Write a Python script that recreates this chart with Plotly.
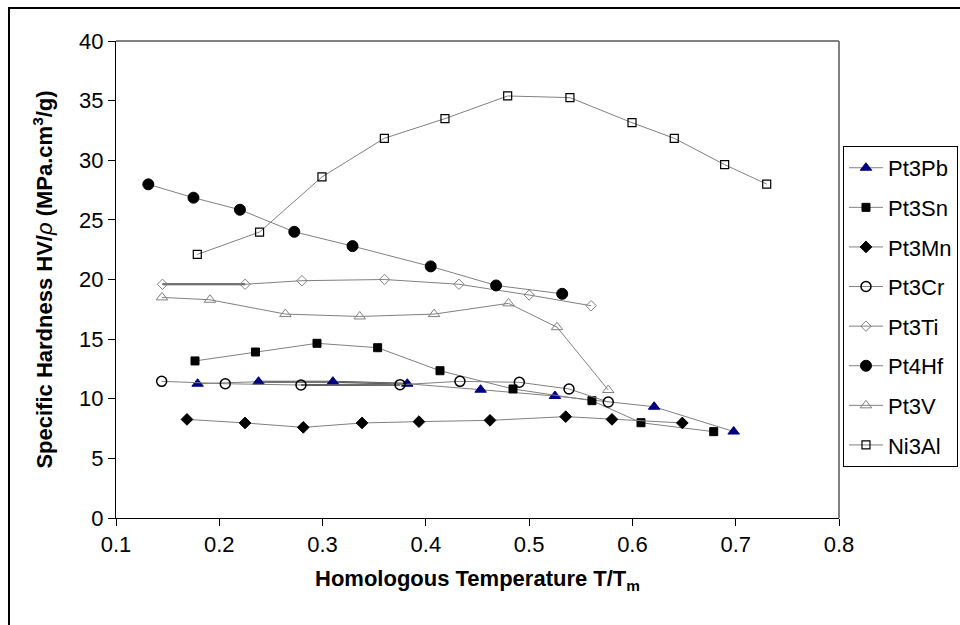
import plotly.graph_objects as go

# ---- data ----
pb_x = [0.179, 0.238, 0.310, 0.382, 0.453, 0.525, 0.621, 0.698]
pb_y = [11.26, 11.43, 11.43, 11.26, 10.76, 10.23, 9.33, 7.25]

sn_x = [0.1765, 0.235, 0.2946, 0.3533, 0.4137, 0.4844, 0.5608, 0.6083, 0.6787]
sn_y = [13.17, 13.92, 14.65, 14.28, 12.35, 10.82, 9.84, 7.99, 7.24]

mn_x = [0.1687, 0.2249, 0.2813, 0.3382, 0.3933, 0.4621, 0.5354, 0.5802, 0.6483]
mn_y = [8.27, 7.97, 7.60, 7.97, 8.08, 8.19, 8.50, 8.27, 7.97]

cr_x = [0.1442, 0.2058, 0.2791, 0.3750, 0.4330, 0.4905, 0.5386, 0.5766]
cr_y = [11.46, 11.26, 11.15, 11.18, 11.46, 11.38, 10.82, 9.73]

ti_x = [0.145, 0.225, 0.280, 0.360, 0.432, 0.500, 0.560]
ti_y = [19.6, 19.6, 19.9, 20.0, 19.6, 18.7, 17.8]

hf_x = [0.1313, 0.175, 0.220, 0.2726, 0.329, 0.4047, 0.468, 0.532]
hf_y = [27.98, 26.86, 25.85, 24.0, 22.8, 21.1, 19.5, 18.8]

v_x = [0.1445, 0.191, 0.264, 0.336, 0.408, 0.480, 0.527, 0.5766]
v_y = [18.5, 18.3, 17.1, 16.9, 17.1, 18.0, 16.0, 10.73]

al_x = [0.1787, 0.239, 0.2994, 0.3598, 0.4185, 0.4792, 0.5395, 0.5996, 0.6405, 0.6893, 0.730]
al_y = [22.1, 23.98, 28.6, 31.84, 33.49, 35.39, 35.25, 33.15, 31.84, 29.63, 28.0]

names = ["Pt3Pb", "Pt3Sn", "Pt3Mn", "Pt3Cr", "Pt3Ti", "Pt4Hf", "Pt3V", "Ni3Al"]

x_ticks = [0.1, 0.2, 0.3, 0.4, 0.5, 0.6, 0.7, 0.8]
y_ticks = [0, 5, 10, 15, 20, 25, 30, 35, 40]

FONT = "Liberation Sans, Arial, sans-serif"
LINE = "#808080"
DARK = "#404040"

styles = [
    dict(symbol="triangle-up", size=10, color="#000080", line=dict(color="#000080", width=1)),
    dict(symbol="square", size=8, color="black", line=dict(color="black", width=1)),
    dict(symbol="diamond", size=9, color="black", line=dict(color="black", width=1)),
    dict(symbol="circle-open", size=10, color="black", line=dict(color="black", width=1.5)),
    dict(symbol="diamond-open", size=8, color="#808080", line=dict(color="#808080", width=1)),
    dict(symbol="circle", size=11, color="black", line=dict(color="black", width=1)),
    dict(symbol="triangle-up-open", size=10, color="#808080", line=dict(color="#808080", width=1)),
    dict(symbol="square-open", size=8, color="black", line=dict(color="black", width=1.2)),
]

series = [(pb_x, pb_y), (sn_x, sn_y), (mn_x, mn_y), (cr_x, cr_y),
          (ti_x, ti_y), (hf_x, hf_y), (v_x, v_y), (al_x, al_y)]

fig = go.Figure()

# darker overlapping line segments seen in the reference
dark_segments = [(pb_x[1:4], pb_y[1:4]), (cr_x[2:4], cr_y[2:4]), (ti_x[0:2], ti_y[0:2])]
for xs, ys in dark_segments:
    fig.add_trace(go.Scatter(x=xs, y=ys, mode="lines", line=dict(color=DARK, width=2),
                             showlegend=False, hoverinfo="skip"))

for i, ((xs, ys), nm, st) in enumerate(zip(series, names, styles)):
    fig.add_trace(go.Scatter(
        x=xs, y=ys, name=nm, mode="lines+markers",
        line=dict(color=LINE, width=1),
        marker=st, legendgroup=nm, cliponaxis=False,
    ))

fig.update_layout(
    width=960, height=625,
    margin=dict(l=116, r=121, t=41, b=107, autoexpand=False),
    paper_bgcolor="white", plot_bgcolor="white",
    font=dict(family=FONT, size=22, color="black"),
    showlegend=True,
    legend=dict(
        x=1.0055, y=0.78, xanchor="left", yanchor="top",
        bordercolor="black", borderwidth=1,
        font=dict(family=FONT, size=22, color="black"),
        tracegroupgap=8, itemwidth=34,
    ),
    xaxis=dict(
        range=[0.1, 0.8], tickvals=x_ticks, ticktext=[f"{t:.1f}" for t in x_ticks],
        showgrid=False, zeroline=False, showline=True, linecolor="black", linewidth=1,
        ticks="outside", ticklen=7, tickcolor="black",
        tickfont=dict(size=22),
        title=dict(text="<b>Homologous Temperature T/T<sub>m</sub></b>", font=dict(size=22), standoff=14),
    ),
    yaxis=dict(
        range=[0, 40], tickvals=y_ticks,
        showgrid=False, zeroline=False, showline=True, linecolor="black", linewidth=1,
        ticks="outside", ticklen=7, tickcolor="black",
        tickfont=dict(size=22),
        title=dict(text="<b>Specific Hardness HV/</b><i>ρ</i><b> (MPa.cm<sup>3</sup>/g)</b>", font=dict(size=22), standoff=20),
    ),
    shapes=[
        dict(type="line", xref="paper", yref="paper", x0=0, x1=1, y0=1, y1=1, line=dict(color="#808080", width=2)),
        dict(type="line", xref="paper", yref="paper", x0=1, x1=1, y0=0, y1=1, line=dict(color="#808080", width=2)),
        dict(type="rect", xref="paper", yref="paper", x0=-0.148, x1=1.3, y0=-0.4, y1=1.069,
             line=dict(color="black", width=2)),
    ],
)

fig.write_html("out.html")
